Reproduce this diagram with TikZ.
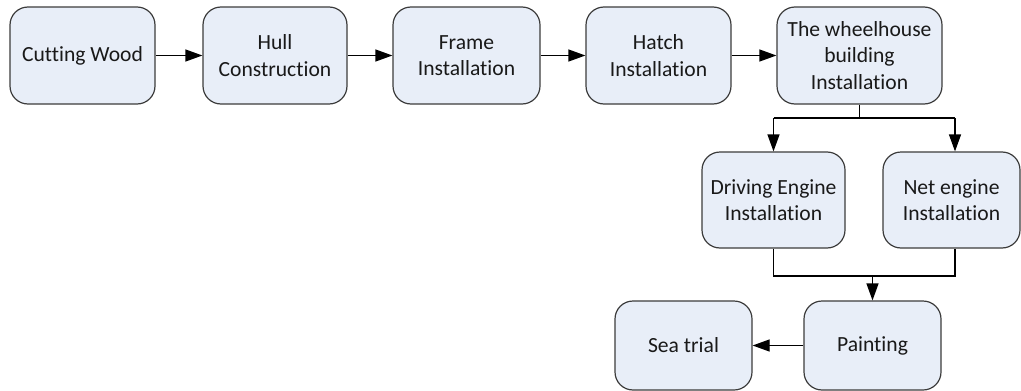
\documentclass[tikz,border=0pt]{standalone}
\usepackage{fontspec}
\setmainfont{Carlito}[Ligatures=NoCommon]
\usetikzlibrary{arrows.meta}
\definecolor{boxfill}{HTML}{E8EEF8}
\definecolor{boxline}{HTML}{3C3C3C}
\begin{document}
\begin{tikzpicture}[x=1pt,y=-1pt,
  stage/.style={draw=boxline,fill=boxfill,line width=1.2pt,rounded corners=18pt,
    minimum height=97pt,inner sep=0pt,align=center,
    font=\fontsize{21.6}{26.5}\selectfont,text=black!90},
  flow/.style={line width=1.2pt,draw=black,-{Triangle[length=17pt,width=12pt]}},
  link/.style={line width=1.2pt,draw=black}]
\useasboundingbox (0,0) rectangle (1021,391);
% top row
\node[stage,minimum width=145pt] (cut)   at (82.5,55.5)  {Cutting Wood};
\node[stage,minimum width=144pt] (hull)  at (275,55.5)   {Hull\\Construction};
\node[stage,minimum width=147pt] (frame) at (466.5,55.5) {Frame\\Installation};
\node[stage,minimum width=145pt] (hatch) at (658.5,55.5) {Hatch\\Installation};
\node[stage,minimum width=165pt] (wheel) at (859.5,55.5) {The wheelhouse\\building\\Installation};
% engines
\node[stage,minimum width=143pt,minimum height=96pt] (drive) at (773.5,200) {Driving Engine\\Installation};
\node[stage,minimum width=137pt,minimum height=96pt] (net)   at (951.5,200) {Net engine\\Installation};
% finishing
\node[stage,minimum width=137pt,minimum height=89pt] (paint) at (872.5,345.5) {Painting};
\node[stage,minimum width=137pt,minimum height=89pt] (sea)   at (683.5,345.5) {Sea trial};
% junction points
\coordinate (split) at (859.5,118);
\coordinate (sl) at (773.5,118);
\coordinate (sr) at (955,118);
\coordinate (merge) at (872.5,276);
\coordinate (ml) at (773.5,276);
\coordinate (mr) at (955,276);
% connectors
\draw[flow] (cut) -- (hull);
\draw[flow] (hull) -- (frame);
\draw[flow] (frame) -- (hatch);
\draw[flow] (hatch) -- (wheel);
\draw[link] (wheel.south) -- (split);
\draw[link] (sl) -- (sr);
\draw[flow] (sl) -- (drive.north);
\draw[flow] (sr) -- (sr |- net.north);
\draw[link] (drive.south) -- (ml) -- (mr) -- (mr |- net.south);
\draw[flow] (merge) -- (paint.north);
\draw[flow] (paint) -- (sea);
\end{tikzpicture}
\end{document}
